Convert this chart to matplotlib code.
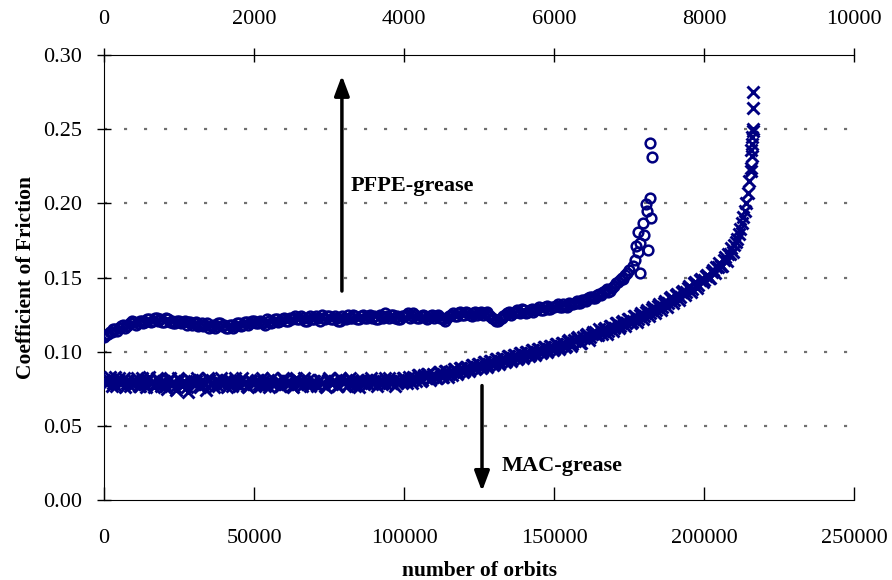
import numpy as np
import matplotlib.pyplot as plt

plt.rcParams['font.family'] = ['Liberation Serif', 'DejaVu Serif']

NAVY = '#000080'

# MAC-grease: coefficient of friction, readings every 1000 orbits (bottom axis)
mac_step = 1000
mac_cof = [
    0.081, 0.078, 0.083, 0.079, 0.077, 0.082, 0.080, 0.076, 0.081, 0.079,
    0.078, 0.082, 0.077, 0.080, 0.076, 0.083, 0.079, 0.078, 0.081, 0.077,
    0.080, 0.075, 0.082, 0.078, 0.074, 0.081, 0.077, 0.079, 0.073, 0.080,
    0.078, 0.082, 0.076, 0.079, 0.074, 0.081, 0.078, 0.080, 0.077, 0.082,
    0.079, 0.076, 0.081, 0.078, 0.080, 0.077, 0.082, 0.079, 0.076, 0.080,
    0.078, 0.081, 0.077, 0.080, 0.079, 0.076, 0.082, 0.078, 0.080, 0.077,
    0.081, 0.078, 0.079, 0.076, 0.082, 0.080, 0.077, 0.079, 0.081, 0.078,
    0.080, 0.077, 0.081, 0.079, 0.076, 0.082, 0.078, 0.080, 0.077, 0.081,
    0.079, 0.077, 0.082, 0.078, 0.080, 0.076, 0.081, 0.079, 0.078, 0.082,
    0.079, 0.077, 0.081, 0.080, 0.078, 0.082, 0.079, 0.077, 0.081, 0.080,
    0.082, 0.079, 0.081, 0.083, 0.080, 0.084, 0.081, 0.083, 0.085, 0.082,
    0.084, 0.082, 0.086, 0.083, 0.087, 0.085, 0.084, 0.088, 0.086, 0.089,
    0.087, 0.090, 0.088, 0.091, 0.089, 0.092, 0.090, 0.093, 0.091, 0.094,
    0.092, 0.095, 0.093, 0.096, 0.094, 0.097, 0.095, 0.098, 0.096, 0.099,
    0.097, 0.100, 0.098, 0.101, 0.099, 0.102, 0.100, 0.103, 0.101, 0.104,
    0.102, 0.105, 0.103, 0.106, 0.104, 0.108, 0.105, 0.107, 0.110, 0.106,
    0.109, 0.112, 0.110, 0.113, 0.111, 0.115, 0.112, 0.116, 0.114, 0.117,
    0.116, 0.119, 0.117, 0.121, 0.119, 0.122, 0.120, 0.124, 0.122, 0.126,
    0.124, 0.128, 0.126, 0.130, 0.128, 0.132, 0.130, 0.134, 0.133, 0.137,
    0.135, 0.139, 0.137, 0.141, 0.140, 0.144, 0.142, 0.147, 0.145, 0.149,
    0.148, 0.152, 0.150, 0.155, 0.157, 0.160, 0.158, 0.164, 0.166, 0.170,
    0.172, 0.176, 0.183, 0.191, 0.200, 0.215, 0.232,
]
# second reading taken half way between, at 500, 1500, ... orbits
mac_cof_half = [
    0.079, 0.081, 0.077, 0.083, 0.080, 0.078, 0.082, 0.079, 0.077, 0.081,
    0.080, 0.077, 0.082, 0.078, 0.081, 0.079, 0.076, 0.082, 0.079, 0.080,
    0.077, 0.081, 0.079, 0.076, 0.082, 0.078, 0.080, 0.076, 0.081, 0.078,
    0.080, 0.077, 0.081, 0.078, 0.082, 0.079, 0.076, 0.081, 0.079, 0.078,
    0.081, 0.079, 0.077, 0.082, 0.078, 0.080, 0.079, 0.077, 0.081, 0.078,
    0.080, 0.078, 0.082, 0.077, 0.081, 0.079, 0.078, 0.080, 0.077, 0.082,
    0.079, 0.080, 0.077, 0.081, 0.078, 0.079, 0.082, 0.078, 0.077, 0.080,
    0.078, 0.081, 0.079, 0.077, 0.081, 0.079, 0.080, 0.077, 0.082, 0.079,
    0.081, 0.078, 0.080, 0.077, 0.081, 0.079, 0.078, 0.081, 0.080, 0.079,
    0.081, 0.079, 0.078, 0.082, 0.080, 0.079, 0.081, 0.079, 0.080, 0.082,
    0.080, 0.083, 0.079, 0.082, 0.084, 0.080, 0.084, 0.085, 0.081, 0.085,
    0.082, 0.086, 0.083, 0.087, 0.083, 0.087, 0.088, 0.085, 0.089, 0.086,
    0.090, 0.087, 0.091, 0.088, 0.092, 0.089, 0.093, 0.090, 0.094, 0.091,
    0.095, 0.092, 0.096, 0.093, 0.097, 0.094, 0.098, 0.095, 0.099, 0.096,
    0.100, 0.097, 0.101, 0.098, 0.102, 0.099, 0.103, 0.100, 0.104, 0.101,
    0.105, 0.102, 0.106, 0.103, 0.107, 0.104, 0.108, 0.109, 0.106, 0.110,
    0.111, 0.108, 0.112, 0.113, 0.111, 0.114, 0.115, 0.112, 0.117, 0.114,
    0.119, 0.116, 0.120, 0.117, 0.122, 0.119, 0.124, 0.120, 0.125, 0.122,
    0.127, 0.124, 0.129, 0.126, 0.131, 0.128, 0.133, 0.130, 0.136, 0.133,
    0.138, 0.135, 0.140, 0.138, 0.143, 0.140, 0.146, 0.143, 0.148, 0.147,
    0.151, 0.150, 0.154, 0.153, 0.157, 0.158, 0.162, 0.161, 0.166, 0.167,
    0.174, 0.179, 0.187, 0.195, 0.207, 0.224,
]
# last readings before the MAC test stopped
mac_tail_orbits = [215600, 215800, 216000, 216000, 216200, 216200, 216300, 216300]
mac_tail_cof = [0.222, 0.236, 0.240, 0.245, 0.249, 0.250, 0.264, 0.275]

# PFPE-grease: readings every 50 orbits (top axis)
pfpe_step = 50
pfpe_cof = [
    0.110, 0.112, 0.113, 0.115, 0.116, 0.118, 0.117, 0.119, 0.120, 0.119,
    0.121, 0.120, 0.122, 0.121, 0.123, 0.122, 0.120, 0.122, 0.121, 0.119,
    0.121, 0.120, 0.118, 0.120, 0.119, 0.117, 0.119, 0.118, 0.116, 0.118,
    0.117, 0.119, 0.118, 0.116, 0.118, 0.117, 0.119, 0.118, 0.120, 0.119,
    0.121, 0.119, 0.120, 0.118, 0.121, 0.120, 0.122, 0.121, 0.123, 0.121,
    0.122, 0.124, 0.122, 0.123, 0.121, 0.124, 0.122, 0.123, 0.125, 0.122,
    0.124, 0.122, 0.123, 0.121, 0.123, 0.125, 0.123, 0.124, 0.122, 0.125,
    0.123, 0.125, 0.124, 0.122, 0.124, 0.126, 0.123, 0.125, 0.124, 0.122,
    0.124, 0.126, 0.124, 0.125, 0.123, 0.125, 0.122, 0.124, 0.123, 0.125,
    0.123, 0.121, 0.124, 0.126, 0.124, 0.127, 0.125, 0.126, 0.124, 0.127,
    0.126, 0.125, 0.127, 0.124, 0.122, 0.121, 0.123, 0.125, 0.127, 0.126,
    0.128, 0.126, 0.128, 0.127, 0.129, 0.128, 0.130, 0.128, 0.131, 0.129,
    0.130, 0.132, 0.130, 0.131, 0.133, 0.132, 0.134, 0.133, 0.135, 0.136,
    0.137, 0.136, 0.139, 0.140, 0.142, 0.141, 0.144, 0.147, 0.150, 0.152,
    0.155,
]
# second reading at 25, 75, ... orbits
pfpe_cof_half = [
    0.111, 0.113, 0.115, 0.114, 0.117, 0.116, 0.118, 0.121, 0.118, 0.121,
    0.119, 0.122, 0.120, 0.123, 0.121, 0.120, 0.123, 0.120, 0.119, 0.121,
    0.119, 0.121, 0.120, 0.118, 0.120, 0.118, 0.117, 0.119, 0.117, 0.116,
    0.119, 0.117, 0.116, 0.118, 0.116, 0.119, 0.117, 0.120, 0.118, 0.121,
    0.119, 0.121, 0.119, 0.122, 0.119, 0.122, 0.120, 0.122, 0.121, 0.123,
    0.123, 0.122, 0.124, 0.121, 0.123, 0.122, 0.124, 0.121, 0.123, 0.124,
    0.122, 0.124, 0.121, 0.124, 0.122, 0.123, 0.125, 0.122, 0.124, 0.123,
    0.124, 0.123, 0.122, 0.125, 0.123, 0.124, 0.125, 0.123, 0.122, 0.124,
    0.125, 0.123, 0.126, 0.123, 0.124, 0.124, 0.123, 0.125, 0.124, 0.123,
    0.122, 0.123, 0.125, 0.124, 0.126, 0.125, 0.127, 0.125, 0.126, 0.125,
    0.127, 0.126, 0.125, 0.123, 0.121, 0.122, 0.124, 0.126, 0.125, 0.127,
    0.127, 0.129, 0.126, 0.128, 0.127, 0.129, 0.128, 0.130, 0.129, 0.130,
    0.131, 0.130, 0.132, 0.130, 0.132, 0.133, 0.133, 0.135, 0.134, 0.137,
    0.136, 0.138, 0.138, 0.141, 0.140, 0.143, 0.146, 0.148, 0.149, 0.153,
]
pfpe_tail_orbits = [7050, 7080, 7093, 7120, 7120, 7147, 7150, 7183, 7196,
                    7227, 7240, 7248, 7284, 7293, 7302, 7284]
pfpe_tail_cof = [0.158, 0.162, 0.171, 0.1675, 0.181, 0.153, 0.1735, 0.1866, 0.1787,
                 0.1993, 0.1945, 0.1686, 0.2034, 0.190, 0.231, 0.241]

mac_x = np.concatenate([np.arange(len(mac_cof)) * mac_step,
                        np.arange(len(mac_cof_half)) * mac_step + mac_step / 2,
                        mac_tail_orbits])
mac_y = np.concatenate([mac_cof, mac_cof_half, mac_tail_cof])
pfpe_x = np.concatenate([np.arange(len(pfpe_cof)) * pfpe_step,
                         np.arange(len(pfpe_cof_half)) * pfpe_step + pfpe_step / 2,
                         pfpe_tail_orbits])
pfpe_y = np.concatenate([pfpe_cof, pfpe_cof_half, pfpe_tail_cof])

fig = plt.figure(figsize=(8.92, 5.80), dpi=100)
ax = fig.add_axes([0.1166, 0.1379, 0.8408, 0.7673])

for yv in [0.05, 0.10, 0.15, 0.20, 0.25]:
    ax.axhline(yv, color='#707070', lw=1.6, dashes=(1.4, 7.6), zorder=0)

ax.plot(mac_x, mac_y, 'x', color=NAVY, ms=8, mew=2.1, zorder=3)

ax.set_xlim(0, 250000)
ax.set_ylim(0, 0.30)
ax.set_xticks(np.arange(0, 250001, 50000))
ax.set_yticks(np.arange(0, 0.301, 0.05))
ax.yaxis.set_major_formatter(plt.FormatStrFormatter('%.2f'))
ax.tick_params(axis='x', direction='in', length=9.5, width=1, labelsize=16, pad=21)
ax.tick_params(axis='y', direction='inout', length=9.5, width=1, labelsize=16, pad=11)
ax.spines['right'].set_visible(False)
ax.spines['top'].set_visible(False)
ax.set_xlabel('number of orbits', fontsize=15.5, fontweight='bold', labelpad=9)
ax.set_ylabel('Coefficient of Friction', fontsize=15.5, fontweight='bold', labelpad=5)

top = ax.twiny()
top.plot(pfpe_x, pfpe_y, 'o', color=NAVY, mfc='none', ms=7, mew=1.8, zorder=3)
top.set_xlim(0, 10000)
top.set_xticks(np.arange(0, 10001, 2000))
top.tick_params(axis='x', direction='inout', length=10, width=1, labelsize=16, pad=14)
top.spines['right'].set_visible(False)
top.spines['left'].set_visible(False)
top.spines['bottom'].set_visible(False)

ax.annotate('', xy=(79300, 0.288), xytext=(79300, 0.139),
            arrowprops=dict(arrowstyle='-|>,head_width=0.45,head_length=1.2',
                            lw=2.5, color='black'))
ax.annotate('', xy=(126000, 0.004), xytext=(126000, 0.079),
            arrowprops=dict(arrowstyle='-|>,head_width=0.45,head_length=1.2',
                            lw=2.5, color='black'))
ax.text(82300, 0.212, 'PFPE-grease', fontsize=16, fontweight='bold', va='center')
ax.text(132700, 0.023, 'MAC-grease', fontsize=16, fontweight='bold', va='center')

fig.savefig('out.png', dpi=100)
